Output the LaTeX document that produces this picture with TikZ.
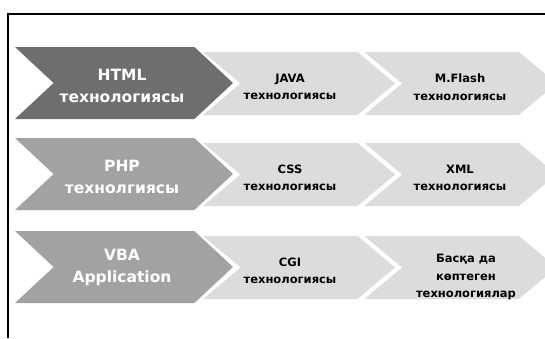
\documentclass[tikz,border=0pt]{standalone}
\usepackage{fontspec}
\setmainfont{DejaVu Sans}
\usetikzlibrary{shapes.symbols}
\definecolor{darkgr}{HTML}{6E6E6E}
\definecolor{midgr}{HTML}{A2A2A2}
\definecolor{lightgr}{HTML}{DCDCDC}
\tikzset{%
   chev/.style={signal, signal from=west, signal to=east, draw=none, inner sep=0mm, outer sep=0mm},
   bigchev/.style={chev, signal pointer angle=86, minimum width=218pt, minimum height=72pt},
   smallchev/.style={chev, fill=lightgr, signal pointer angle=80, minimum width=192pt, minimum height=63pt},
   whitetxt/.style={text=white, align=center, inner sep=0mm, font=\fontsize{15.5}{22}\selectfont\bfseries},
   blacktxt/.style={text=black, align=center, inner sep=0mm, font=\fontsize{11.5}{17.5}\selectfont\bfseries},
   frame/.style={line width=2.2pt, black},
}

\begin{document}
\begin{tikzpicture}[x=1pt, y=-1pt]
      \clip (0,0) rectangle (545,338);
      \fill[white] (0,0) rectangle (545,338);
      % frame
      \coordinate (f0) at (8,338);
      \coordinate (f1) at (8,14);
      \coordinate (f2) at (546,14);
      \draw[frame] (f0) -- (f1) -- (f2);
      % row 1
      \node[bigchev, fill=darkgr] (a0) at (124,83) {};
      \node[smallchev] (a1) at (299,83.5) {};
      \node[smallchev] (a2) at (460.5,83.5) {};
      \node[whitetxt] (ta0) at (122,86) {HTML\\технологиясы};
      \node[blacktxt] (ta1) at (290,87) {JAVA\\технологиясы};
      \node[blacktxt] (ta2) at (460,87) {M.Flash\\технологиясы};
      % row 2
      \node[bigchev, fill=midgr] (b0) at (124,174) {};
      \node[smallchev] (b1) at (299,174.5) {};
      \node[smallchev] (b2) at (460.5,174.5) {};
      \node[whitetxt] (tb0) at (122,177) {PHP\\технолгиясы};
      \node[blacktxt] (tb1) at (290,178) {CSS\\технологиясы};
      \node[blacktxt] (tb2) at (460,178) {XML\\технологиясы};
      % row 3
      \node[bigchev, fill=midgr] (c0) at (124,267) {};
      \node[smallchev] (c1) at (299,267.5) {};
      \node[smallchev] (c2) at (460.5,267.5) {};
      \node[whitetxt] (tc0) at (122,267) {VBA\\Application};
      \node[blacktxt] (tc1) at (290,271) {CGI\\технологиясы};
      \node[blacktxt] (tc2) at (466,277) {Басқа да\\көптеген\\технологиялар};
   \end{tikzpicture}
\end{document}
